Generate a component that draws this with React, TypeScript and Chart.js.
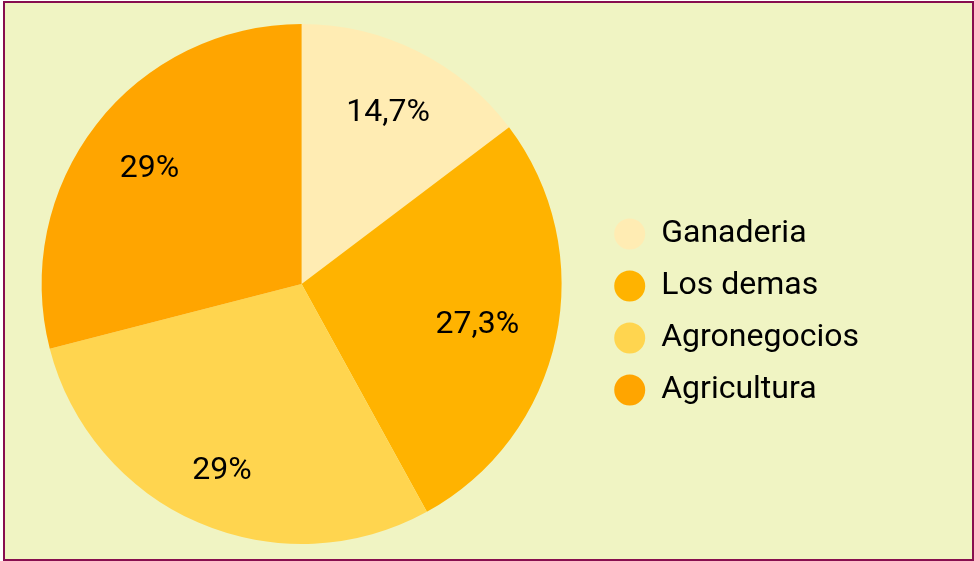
import React, { useEffect, useRef } from "react";
import { Chart, registerables } from "chart.js";

Chart.register(...registerables);

const categories = ["Ganaderia", "Los demas", "Agronegocios", "Agricultura"];
const shares = [14.7, 27.3, 29, 29];
const sliceColors = ["#ffecb3", "#ffb300", "#ffd54f", "#ffa500"];

const FONT = "Roboto, 'Noto Sans', sans-serif";
const FONT_SIZE = 32;

const sliceLabels = {
  id: "sliceLabels",
  afterDatasetsDraw(chart: any) {
    const ctx = chart.ctx;
    const meta = chart.getDatasetMeta(0);
    const data = chart.data.datasets[0].data as number[];
    ctx.save();
    ctx.font = `${FONT_SIZE}px ${FONT}`;
    ctx.fillStyle = "#000";
    ctx.textAlign = "center";
    ctx.textBaseline = "middle";
    meta.data.forEach((arc: any, i: number) => {
      const { x, y, startAngle, endAngle, outerRadius } = arc.getProps(
        ["x", "y", "startAngle", "endAngle", "outerRadius"],
        true
      );
      const mid = (startAngle + endAngle) / 2;
      const txt = String(data[i]).replace(".", ",") + "%";
      const w = ctx.measureText(txt).width;
      const h = FONT_SIZE * 0.72;
      const ext =
        (Math.abs(Math.cos(mid)) * w) / 2 + (Math.abs(Math.sin(mid)) * h) / 2;
      const r = outerRadius * 0.858 - ext;
      ctx.fillText(txt, x + Math.cos(mid) * r, y + Math.sin(mid) * r + 3);
    });
    ctx.restore();
  },
};

export default function App() {
  const ref = useRef<HTMLCanvasElement | null>(null);
  useEffect(() => {
    if (!ref.current) return;
    const chart = new Chart(ref.current, {
      type: "pie",
      data: {
        labels: categories,
        datasets: [
          {
            data: shares,
            backgroundColor: sliceColors,
            borderWidth: 0,
          },
        ],
      },
      options: {
        animation: false,
        responsive: true,
        maintainAspectRatio: false,
        layout: { padding: { left: 4, right: 103, top: 21, bottom: 15 } },
        plugins: {
          tooltip: { enabled: false },
          legend: {
            position: "right",
            title: {
              display: true,
              text: "",
              font: { size: 10, lineHeight: 1 },
              padding: { top: 46, bottom: 0 },
            },
            labels: {
              usePointStyle: true,
              pointStyle: "circle",
              boxHeight: 22,
              pointStyleWidth: 31,
              padding: 20,
              color: "#000",
              font: { family: FONT, size: FONT_SIZE },
            },
          },
        },
      },
      plugins: [sliceLabels],
    });
    return () => chart.destroy();
  }, []);

  return (
    <div
      style={{
        position: "fixed",
        left: 3,
        top: 1,
        width: 971,
        height: 560,
        boxSizing: "border-box",
        border: "2px solid #880e4f",
        background: "#f0f4c3",
      }}
    >
      <canvas ref={ref} />
    </div>
  );
}
